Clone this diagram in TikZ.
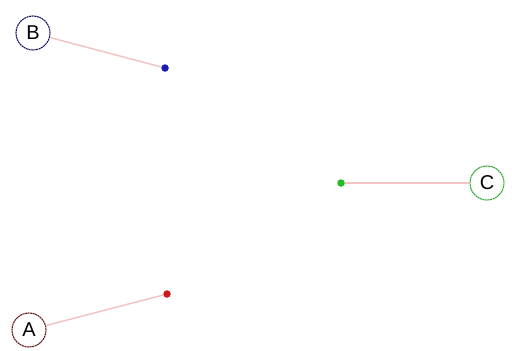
\documentclass[tikz,border=0pt]{standalone}
\usepackage{fontspec}
\setmainfont{Liberation Sans}
\definecolor{bcol}{HTML}{1A1A6A}
\definecolor{ccol}{HTML}{33AA33}
\definecolor{acol}{HTML}{6A1A1A}
\definecolor{dotb}{HTML}{1A1AB0}
\definecolor{dotc}{HTML}{22BB22}
\definecolor{dota}{HTML}{CC1A1A}
\definecolor{linkcol}{HTML}{F2C4C4}
\begin{document}
\begin{tikzpicture}[x=1pt,y=-1pt,
  lab/.style={circle,draw,line width=1.1pt,dash pattern=on 2pt off 0.6pt,minimum size=34pt,inner sep=0pt,font=\fontsize{20}{20}\selectfont},
  pt/.style={circle,inner sep=0pt,minimum size=7.5pt},
  link/.style={draw=linkcol,line width=1.5pt}]
\useasboundingbox (0,0) rectangle (512,351);
\fill[white] (0,0) rectangle (512,351);
\node[lab,draw=bcol] (B) at (33,33) {B};
\node[lab,draw=ccol] (C) at (487,183) {C};
\node[lab,draw=acol] (A) at (29,330) {A};
\node[pt,fill=dotb] (b) at (165,68) {};
\node[pt,fill=dotc] (c) at (341,183) {};
\node[pt,fill=dota] (a) at (167,294) {};
\draw[link] (B) -- (b);
\draw[link] (C) -- (c);
\draw[link] (A) -- (a);
\end{tikzpicture}
\end{document}
